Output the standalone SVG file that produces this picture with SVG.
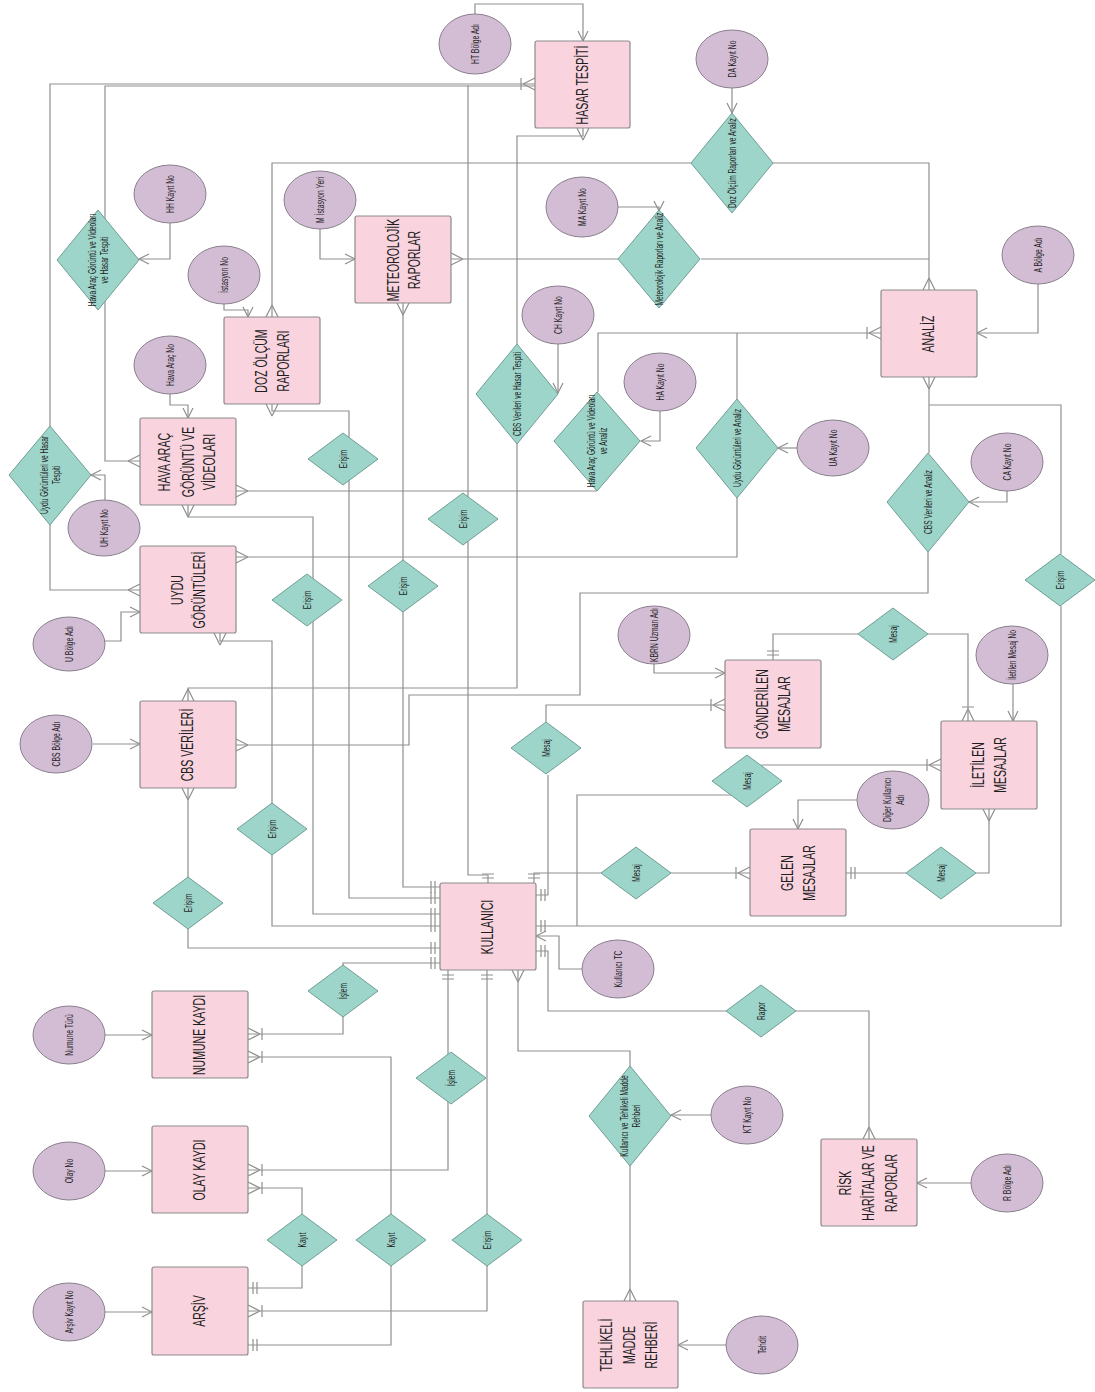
<svg xmlns="http://www.w3.org/2000/svg" width="1095" height="1392" viewBox="0 0 1095 1392">
<style>
.ent{fill:#f9d3de;stroke:#8c8c8c;stroke-width:1.2}
.att{fill:#d3bdd5;stroke:#8a7f8c;stroke-width:1}
.rel{fill:#9dd5ca;stroke:#6f9e95;stroke-width:1}
.ln{fill:none;stroke:#8f8f8f;stroke-width:1.2}
.mk{fill:none;stroke:#8f8f8f;stroke-width:1.2}
text{font-family:"Liberation Sans",Arial,sans-serif;fill:#1e1e1e;text-anchor:middle;dominant-baseline:central}
.te{font-size:16px}
.ta{font-size:10px}
.tr{font-size:10px}
</style>
<defs>
<marker id="arr" markerUnits="userSpaceOnUse" markerWidth="1" markerHeight="1" refX="0" refY="0" orient="auto-start-reverse" style="overflow:visible"><path class="mk" d="M-10,-5 L0,0 L-10,5"/></marker>
<marker id="many" markerUnits="userSpaceOnUse" markerWidth="1" markerHeight="1" refX="0" refY="0" orient="auto-start-reverse" style="overflow:visible"><path class="mk" d="M-12,0 L0,-6 M-12,0 L0,6"/></marker>
<marker id="manyBar" markerUnits="userSpaceOnUse" markerWidth="1" markerHeight="1" refX="0" refY="0" orient="auto-start-reverse" style="overflow:visible"><path class="mk" d="M-12,0 L0,-6 M-12,0 L0,6 M-14,-6 V6"/></marker>
<marker id="one" markerUnits="userSpaceOnUse" markerWidth="1" markerHeight="1" refX="0" refY="0" orient="auto-start-reverse" style="overflow:visible"><path class="mk" d="M-5,-6 V6 M-9,-6 V6"/></marker>
</defs>
<rect width="1095" height="1392" fill="#ffffff"/>

<g id="connectors">
<polyline class="ln" points="475,15 475,4 583,4 583,41" marker-end="url(#arr)"/>
<polyline class="ln" points="50,426 50,84 535,84" marker-end="url(#manyBar)"/>
<polyline class="ln" points="140,461 105,461 105,86 469,86" marker-start="url(#many)"/>
<polyline class="ln" points="488,883 488,875 468,875 468,86 535,86" marker-start="url(#one)"/>
<polyline class="ln" points="732,88 732,113" marker-end="url(#arr)"/>
<polyline class="ln" points="691,163 272,163 272,317" marker-end="url(#many)"/>
<polyline class="ln" points="772,163 929,163 929,290" marker-end="url(#many)"/>
<polyline class="ln" points="451,259 618,259" marker-start="url(#many)"/>
<polyline class="ln" points="701,259 929,259"/>
<polyline class="ln" points="618,207 659,207 659,211" marker-end="url(#arr)"/>
<polyline class="ln" points="320,229 320,259 355,259" marker-end="url(#arr)"/>
<polyline class="ln" points="224,303 224,310 248,310 248,317" marker-end="url(#arr)"/>
<polyline class="ln" points="170,223 170,259 139,259" marker-end="url(#arr)"/>
<polyline class="ln" points="170,394 170,405 188,405 188,418" marker-end="url(#arr)"/>
<polyline class="ln" points="105,500 105,475 91,475" marker-end="url(#arr)"/>
<polyline class="ln" points="50,525 50,590 140,590" marker-end="url(#many)"/>
<polyline class="ln" points="105,641 121,641 121,612 140,612" marker-end="url(#arr)"/>
<polyline class="ln" points="93,744 140,744" marker-end="url(#arr)"/>
<polyline class="ln" points="598,392 598,333 881,333" marker-end="url(#manyBar)"/>
<polyline class="ln" points="597,491 236,491" marker-end="url(#many)"/>
<polyline class="ln" points="660,411 660,441 641,441" marker-end="url(#arr)"/>
<polyline class="ln" points="737,399 737,333"/>
<polyline class="ln" points="737,498 737,557 236,557" marker-end="url(#many)"/>
<polyline class="ln" points="797,448 778,448" marker-end="url(#arr)"/>
<polyline class="ln" points="1038,284 1038,333 977,333" marker-end="url(#arr)"/>
<polyline class="ln" points="929,377 929,453" marker-start="url(#many)"/>
<polyline class="ln" points="928,552 928,593 580,593 580,695 409,695 409,745 236,745" marker-end="url(#many)"/>
<polyline class="ln" points="1007,491 1007,502 969,502" marker-end="url(#arr)"/>
<polyline class="ln" points="929,405 1061,405 1061,554"/>
<polyline class="ln" points="1061,606 1061,926 536,926" marker-end="url(#one)"/>
<polyline class="ln" points="517,344 517,136 583,136 583,128" marker-end="url(#many)"/>
<polyline class="ln" points="517,444 517,688 188,688 188,701" marker-end="url(#many)"/>
<polyline class="ln" points="558,344 558,393" marker-end="url(#arr)"/>
<polyline class="ln" points="272,404 272,411 349,411 349,898 440,898" marker-start="url(#many)" marker-end="url(#one)"/>
<polyline class="ln" points="403,303 403,887 440,887" marker-start="url(#many)" marker-end="url(#one)"/>
<polyline class="ln" points="188,505 188,517 313,517 313,914 440,914" marker-start="url(#many)" marker-end="url(#one)"/>
<polyline class="ln" points="220,633 220,641 272,641 272,926 440,926" marker-start="url(#many)" marker-end="url(#one)"/>
<polyline class="ln" points="188,788 188,948 440,948" marker-start="url(#many)" marker-end="url(#one)"/>
<polyline class="ln" points="248,1034 343,1034 343,963 440,963" marker-start="url(#manyBar)" marker-end="url(#one)"/>
<polyline class="ln" points="448,970 448,1170 248,1170" marker-start="url(#one)" marker-end="url(#manyBar)"/>
<polyline class="ln" points="248,1188 302,1188 302,1288 248,1288" marker-start="url(#manyBar)" marker-end="url(#one)"/>
<polyline class="ln" points="248,1057 391,1057 391,1345 248,1345" marker-start="url(#manyBar)" marker-end="url(#one)"/>
<polyline class="ln" points="487,970 487,1311 248,1311" marker-start="url(#one)" marker-end="url(#manyBar)"/>
<polyline class="ln" points="518,970 518,1051 630,1051 630,1066" marker-start="url(#many)"/>
<polyline class="ln" points="630,1166 630,1301" marker-end="url(#many)"/>
<polyline class="ln" points="711,1115 671,1115" marker-end="url(#arr)"/>
<polyline class="ln" points="726,1345 678,1345" marker-end="url(#arr)"/>
<polyline class="ln" points="536,951 548,951 548,1011 726,1011" marker-start="url(#one)"/>
<polyline class="ln" points="796,1011 869,1011 869,1139" marker-end="url(#many)"/>
<polyline class="ln" points="971,1183 917,1183" marker-end="url(#arr)"/>
<polyline class="ln" points="582,969 559,969 559,936 536,936" marker-end="url(#arr)"/>
<polyline class="ln" points="536,895 548,895 548,775" marker-start="url(#one)"/>
<polyline class="ln" points="546,722 546,705 725,705" marker-end="url(#manyBar)"/>
<polyline class="ln" points="534,883 534,873 601,873" marker-start="url(#one)"/>
<polyline class="ln" points="671,873 750,873" marker-end="url(#manyBar)"/>
<polyline class="ln" points="846,873 906,873" marker-start="url(#one)"/>
<polyline class="ln" points="976,873 989,873 989,809" marker-end="url(#many)"/>
<polyline class="ln" points="857,800 798,800 798,829" marker-end="url(#arr)"/>
<polyline class="ln" points="773,660 773,634 858,634" marker-start="url(#one)"/>
<polyline class="ln" points="927,634 968,634 968,721" marker-end="url(#manyBar)"/>
<polyline class="ln" points="1013,684 1013,721" marker-end="url(#arr)"/>
<polyline class="ln" points="731,795 577,795 577,926"/>
<polyline class="ln" points="761,765 941,765" marker-end="url(#manyBar)"/>
<polyline class="ln" points="654,664 654,673 725,673" marker-end="url(#arr)"/>
<polyline class="ln" points="105,1035 152,1035" marker-end="url(#arr)"/>
<polyline class="ln" points="105,1171 152,1171" marker-end="url(#arr)"/>
<polyline class="ln" points="105,1312 152,1312" marker-end="url(#arr)"/>
</g>

<!-- Entities -->
<g id="hasar"><rect class="ent" x="535" y="41" width="95" height="87" rx="2"/><text class="te" transform="translate(583,85) rotate(-90) scale(0.66,1)">HASAR TESPİTİ</text></g>
<g id="meteo"><rect class="ent" x="355" y="216" width="96" height="87" rx="2"/><text class="te" transform="translate(403,260) rotate(-90) scale(0.66,1)"><tspan x="0" y="-10">METEOROLOJİK</tspan><tspan x="0" y="11">RAPORLAR</tspan></text></g>
<g id="doz"><rect class="ent" x="224" y="317" width="96" height="87" rx="2"/><text class="te" transform="translate(272,361) rotate(-90) scale(0.66,1)"><tspan x="0" y="-11">DOZ ÖLÇÜM</tspan><tspan x="0" y="11">RAPORLARI</tspan></text></g>
<g id="analiz"><rect class="ent" x="881" y="290" width="96" height="87" rx="2"/><text class="te" transform="translate(929,334) rotate(-90) scale(0.66,1)">ANALİZ</text></g>
<g id="havaarac"><rect class="ent" x="140" y="418" width="96" height="87" rx="2"/><text class="te" transform="translate(188,462) rotate(-90) scale(0.66,1)"><tspan x="0" y="-24">HAVA ARAÇ</tspan><tspan x="0" y="0">GÖRÜNTÜ VE</tspan><tspan x="0" y="21">VİDEOLARI</tspan></text></g>
<g id="uydu"><rect class="ent" x="140" y="546" width="96" height="87" rx="2"/><text class="te" transform="translate(188,590) rotate(-90) scale(0.66,1)"><tspan x="0" y="-11">UYDU</tspan><tspan x="0" y="11">GÖRÜNTÜLERİ</tspan></text></g>
<g id="cbs"><rect class="ent" x="140" y="701" width="96" height="87" rx="2"/><text class="te" transform="translate(188,745) rotate(-90) scale(0.66,1)">CBS VERİLERİ</text></g>
<g id="gonderilen"><rect class="ent" x="725" y="660" width="96" height="88" rx="2"/><text class="te" transform="translate(773,704) rotate(-90) scale(0.66,1)"><tspan x="0" y="-11">GÖNDERİLEN</tspan><tspan x="0" y="11">MESAJLAR</tspan></text></g>
<g id="iletilen"><rect class="ent" x="941" y="721" width="96" height="88" rx="2"/><text class="te" transform="translate(989,765) rotate(-90) scale(0.66,1)"><tspan x="0" y="-11">İLETİLEN</tspan><tspan x="0" y="11">MESAJLAR</tspan></text></g>
<g id="gelen"><rect class="ent" x="750" y="829" width="96" height="87" rx="2"/><text class="te" transform="translate(798,873) rotate(-90) scale(0.66,1)"><tspan x="0" y="-11">GELEN</tspan><tspan x="0" y="11">MESAJLAR</tspan></text></g>
<g id="kullanici"><rect class="ent" x="440" y="883" width="96" height="87" rx="2"/><text class="te" transform="translate(488,927) rotate(-90) scale(0.66,1)">KULLANICI</text></g>
<g id="numune"><rect class="ent" x="152" y="991" width="96" height="87" rx="2"/><text class="te" transform="translate(200,1035) rotate(-90) scale(0.66,1)">NUMUNE KAYDI</text></g>
<g id="olay"><rect class="ent" x="152" y="1126" width="96" height="87" rx="2"/><text class="te" transform="translate(200,1170) rotate(-90) scale(0.66,1)">OLAY KAYDI</text></g>
<g id="arsiv"><rect class="ent" x="152" y="1267" width="96" height="88" rx="2"/><text class="te" transform="translate(200,1311) rotate(-90) scale(0.66,1)">ARŞİV</text></g>
<g id="tehlikeli"><rect class="ent" x="583" y="1301" width="95" height="87" rx="2"/><text class="te" transform="translate(630,1345) rotate(-90) scale(0.66,1)"><tspan x="0" y="-24">TEHLİKELİ</tspan><tspan x="0" y="-1">MADDE</tspan><tspan x="0" y="21">REHBERİ</tspan></text></g>
<g id="risk"><rect class="ent" x="821" y="1139" width="96" height="87" rx="2"/><text class="te" transform="translate(869,1183) rotate(-90) scale(0.66,1)"><tspan x="0" y="-24">RİSK</tspan><tspan x="0" y="-1">HARİTALAR VE</tspan><tspan x="0" y="22">RAPORLAR</tspan></text></g>

<!-- Attributes -->
<g id="a-htbolge"><ellipse class="att" cx="475" cy="44" rx="36" ry="30"/><text class="ta" transform="translate(475,44) rotate(-90) scale(0.68,1)">HT Bölge Adı</text></g>
<g id="a-dakayit"><ellipse class="att" cx="732" cy="59" rx="36" ry="29"/><text class="ta" transform="translate(732,59) rotate(-90) scale(0.68,1)">DA Kayıt No</text></g>
<g id="a-hhkayit"><ellipse class="att" cx="170" cy="194" rx="36" ry="29"/><text class="ta" transform="translate(170,194) rotate(-90) scale(0.68,1)">HH Kayıt No</text></g>
<g id="a-mistasyon"><ellipse class="att" cx="320" cy="200" rx="36" ry="29"/><text class="ta" transform="translate(320,200) rotate(-90) scale(0.68,1)">M İstasyon Yeri</text></g>
<g id="a-istasyon"><ellipse class="att" cx="224" cy="275" rx="36" ry="29"/><text class="ta" transform="translate(224,275) rotate(-90) scale(0.68,1)">İstasyon No</text></g>
<g id="a-makayit"><ellipse class="att" cx="582" cy="207" rx="36" ry="30"/><text class="ta" transform="translate(582,207) rotate(-90) scale(0.68,1)">MA Kayıt No</text></g>
<g id="a-chkayit"><ellipse class="att" cx="558" cy="315" rx="36" ry="29"/><text class="ta" transform="translate(558,315) rotate(-90) scale(0.68,1)">CH Kayıt No</text></g>
<g id="a-abolge"><ellipse class="att" cx="1038" cy="255" rx="36" ry="29"/><text class="ta" transform="translate(1038,255) rotate(-90) scale(0.68,1)">A Bölge Adı</text></g>
<g id="a-havaaracno"><ellipse class="att" cx="170" cy="365" rx="36" ry="29"/><text class="ta" transform="translate(170,365) rotate(-90) scale(0.68,1)">Hava Araç No</text></g>
<g id="a-hakayit"><ellipse class="att" cx="660" cy="382" rx="36" ry="29"/><text class="ta" transform="translate(660,382) rotate(-90) scale(0.68,1)">HA Kayıt No</text></g>
<g id="a-uhkayit"><ellipse class="att" cx="104" cy="528" rx="36" ry="28"/><text class="ta" transform="translate(104,528) rotate(-90) scale(0.68,1)">UH Kayıt No</text></g>
<g id="a-uakayit"><ellipse class="att" cx="833" cy="448" rx="36" ry="28"/><text class="ta" transform="translate(833,448) rotate(-90) scale(0.68,1)">UA Kayıt No</text></g>
<g id="a-cakayit"><ellipse class="att" cx="1007" cy="462" rx="36" ry="29"/><text class="ta" transform="translate(1007,462) rotate(-90) scale(0.68,1)">CA Kayıt No</text></g>
<g id="a-ubolge"><ellipse class="att" cx="69" cy="644" rx="36" ry="27"/><text class="ta" transform="translate(69,644) rotate(-90) scale(0.68,1)">U Bölge Adı</text></g>
<g id="a-kbrn"><ellipse class="att" cx="654" cy="635" rx="36" ry="29"/><text class="ta" transform="translate(654,635) rotate(-90) scale(0.68,1)">KBRN Uzman Adı</text></g>
<g id="a-iletilenno"><ellipse class="att" cx="1012" cy="655" rx="36" ry="29"/><text class="ta" transform="translate(1012,655) rotate(-90) scale(0.68,1)">İletilen Mesaj No</text></g>
<g id="a-cbsbolge"><ellipse class="att" cx="56" cy="744" rx="36" ry="29"/><text class="ta" transform="translate(56,744) rotate(-90) scale(0.68,1)">CBS Bölge Adı</text></g>
<g id="a-digerkul"><ellipse class="att" cx="893" cy="800" rx="36" ry="29"/><text class="ta" transform="translate(893,800) rotate(-90) scale(0.68,1)"><tspan x="0" y="-6">Diğer Kullanıcı</tspan><tspan x="0" y="7">Adı</tspan></text></g>
<g id="a-kultc"><ellipse class="att" cx="618" cy="969" rx="36" ry="29"/><text class="ta" transform="translate(618,969) rotate(-90) scale(0.68,1)">Kullanıcı TC</text></g>
<g id="a-numunetur"><ellipse class="att" cx="69" cy="1035" rx="36" ry="29"/><text class="ta" transform="translate(69,1035) rotate(-90) scale(0.68,1)">Numune Türü</text></g>
<g id="a-olayno"><ellipse class="att" cx="69" cy="1171" rx="36" ry="29"/><text class="ta" transform="translate(69,1171) rotate(-90) scale(0.68,1)">Olay No</text></g>
<g id="a-arsivno"><ellipse class="att" cx="69" cy="1312" rx="36" ry="29"/><text class="ta" transform="translate(69,1312) rotate(-90) scale(0.68,1)">Arşiv Kayıt No</text></g>
<g id="a-ktkayit"><ellipse class="att" cx="747" cy="1115" rx="36" ry="29"/><text class="ta" transform="translate(747,1115) rotate(-90) scale(0.68,1)">KT Kayıt No</text></g>
<g id="a-tehdit"><ellipse class="att" cx="762" cy="1345" rx="36" ry="29"/><text class="ta" transform="translate(762,1345) rotate(-90) scale(0.68,1)">Tehdit</text></g>
<g id="a-rbolge"><ellipse class="att" cx="1007" cy="1183" rx="36" ry="29"/><text class="ta" transform="translate(1007,1183) rotate(-90) scale(0.68,1)">R Bölge Adı</text></g>

<!-- Relationships -->
<g id="r-doz-analiz"><polygon class="rel" points="732,113 773,163 732,213 691,163"/><text class="tr" transform="translate(732,163) rotate(-90) scale(0.66,1)">Doz Ölçüm Raporları ve Analiz</text></g>
<g id="r-met-analiz"><polygon class="rel" points="659,210 700,259 659,308 618,259"/><text class="tr" transform="translate(659,259) rotate(-90) scale(0.66,1)">Meteorolojik Raporları ve Analiz</text></g>
<g id="r-hava-hasar"><polygon class="rel" points="98,210 139,260 98,310 57,260"/><text class="tr" transform="translate(98,260) rotate(-90) scale(0.66,1)"><tspan x="0" y="-6">Hava Araç Görüntü ve Videoları</tspan><tspan x="0" y="6">ve Hasar Tespiti</tspan></text></g>
<g id="r-cbs-hasar"><polygon class="rel" points="517,344 558,394 517,444 476,394"/><text class="tr" transform="translate(517,394) rotate(-90) scale(0.66,1)">CBS Verileri ve Hasar Tespiti</text></g>
<g id="r-hava-analiz"><polygon class="rel" points="597,392 640,441 597,491 554,441"/><text class="tr" transform="translate(597,441) rotate(-90) scale(0.66,1)"><tspan x="0" y="-6">Hava Araç Görüntü ve Videoları</tspan><tspan x="0" y="6">ve Analiz</tspan></text></g>
<g id="r-uydu-analiz"><polygon class="rel" points="737,399 778,448 737,498 696,448"/><text class="tr" transform="translate(737,448) rotate(-90) scale(0.66,1)">Uydu Görüntüleri ve Analiz</text></g>
<g id="r-uydu-hasar"><polygon class="rel" points="50,426 91,475 50,525 9,475"/><text class="tr" transform="translate(50,475) rotate(-90) scale(0.66,1)"><tspan x="0" y="-6">Uydu Görüntüleri ve Hasar</tspan><tspan x="0" y="6">Tespiti</tspan></text></g>
<g id="r-cbs-analiz"><polygon class="rel" points="928,453 969,502 928,552 887,502"/><text class="tr" transform="translate(928,502) rotate(-90) scale(0.66,1)">CBS Verileri ve Analiz</text></g>
<g id="r-kul-tmr"><polygon class="rel" points="630,1066 671,1116 630,1166 589,1116"/><text class="tr" transform="translate(630,1116) rotate(-90) scale(0.66,1)"><tspan x="0" y="-6">Kullanıcı ve Tehlikeli Madde</tspan><tspan x="0" y="6">Rehberi</tspan></text></g>

<g id="r-erisim1"><polygon class="rel" points="343,433 378,459 343,485 308,459"/><text class="tr" transform="translate(343,459) rotate(-90) scale(0.66,1)">Erişim</text></g>
<g id="r-erisim2"><polygon class="rel" points="463,493 498,519 463,545 428,519"/><text class="tr" transform="translate(463,519) rotate(-90) scale(0.66,1)">Erişim</text></g>
<g id="r-erisim3"><polygon class="rel" points="307,574 342,600 307,626 272,600"/><text class="tr" transform="translate(307,600) rotate(-90) scale(0.66,1)">Erişim</text></g>
<g id="r-erisim4"><polygon class="rel" points="403,560 438,586 403,612 368,586"/><text class="tr" transform="translate(403,586) rotate(-90) scale(0.66,1)">Erişim</text></g>
<g id="r-erisim5"><polygon class="rel" points="1060,554 1095,580 1060,606 1025,580"/><text class="tr" transform="translate(1060,580) rotate(-90) scale(0.66,1)">Erişim</text></g>
<g id="r-mesaj1"><polygon class="rel" points="893,608 928,634 893,660 858,634"/><text class="tr" transform="translate(893,634) rotate(-90) scale(0.66,1)">Mesaj</text></g>
<g id="r-mesaj2"><polygon class="rel" points="546,722 581,748 546,774 511,748"/><text class="tr" transform="translate(546,748) rotate(-90) scale(0.66,1)">Mesaj</text></g>
<g id="r-mesaj3"><polygon class="rel" points="747,755 782,781 747,807 712,781"/><text class="tr" transform="translate(747,781) rotate(-90) scale(0.66,1)">Mesaj</text></g>
<g id="r-erisim6"><polygon class="rel" points="272,803 307,829 272,855 237,829"/><text class="tr" transform="translate(272,829) rotate(-90) scale(0.66,1)">Erişim</text></g>
<g id="r-mesaj4"><polygon class="rel" points="636,847 671,873 636,899 601,873"/><text class="tr" transform="translate(636,873) rotate(-90) scale(0.66,1)">Mesaj</text></g>
<g id="r-mesaj5"><polygon class="rel" points="941,847 976,873 941,899 906,873"/><text class="tr" transform="translate(941,873) rotate(-90) scale(0.66,1)">Mesaj</text></g>
<g id="r-erisim7"><polygon class="rel" points="188,877 223,903 188,929 153,903"/><text class="tr" transform="translate(188,903) rotate(-90) scale(0.66,1)">Erişim</text></g>
<g id="r-islem1"><polygon class="rel" points="343,965 378,991 343,1017 308,991"/><text class="tr" transform="translate(343,991) rotate(-90) scale(0.66,1)">İşlem</text></g>
<g id="r-islem2"><polygon class="rel" points="451,1052 486,1078 451,1104 416,1078"/><text class="tr" transform="translate(451,1078) rotate(-90) scale(0.66,1)">İşlem</text></g>
<g id="r-rapor"><polygon class="rel" points="761,985 796,1011 761,1037 726,1011"/><text class="tr" transform="translate(761,1011) rotate(-90) scale(0.66,1)">Rapor</text></g>
<g id="r-kayit1"><polygon class="rel" points="302,1214 337,1240 302,1266 267,1240"/><text class="tr" transform="translate(302,1240) rotate(-90) scale(0.66,1)">Kayıt</text></g>
<g id="r-kayit2"><polygon class="rel" points="391,1214 426,1240 391,1266 356,1240"/><text class="tr" transform="translate(391,1240) rotate(-90) scale(0.66,1)">Kayıt</text></g>
<g id="r-erisim8"><polygon class="rel" points="487,1214 522,1240 487,1266 452,1240"/><text class="tr" transform="translate(487,1240) rotate(-90) scale(0.66,1)">Erişim</text></g>
</svg>
